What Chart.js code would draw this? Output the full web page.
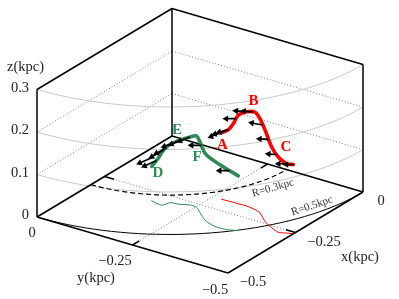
<!DOCTYPE html>
<html>
<head>
<meta charset="utf-8">
<style>
  html, body { margin: 0; padding: 0; background: #fff; overflow: hidden; }
  canvas { display: block; }
</style>
<script src="https://cdn.jsdelivr.net/npm/chart.js@4"></script>
</head>
<body>
<canvas id="myChart" width="399" height="299"></canvas>
<script>
'use strict';

// values, all in kpc
const redX = [-0.202, -0.201, -0.200, -0.201, -0.199, -0.204, -0.212, -0.242, -0.259, -0.270, -0.263, -0.258];
const redY = [-0.273, -0.290, -0.302, -0.315, -0.332, -0.361, -0.380, -0.415, -0.444, -0.469, -0.486, -0.500];
const redZ = [0.157, 0.168, 0.185, 0.208, 0.220, 0.229, 0.222, 0.215, 0.190, 0.177, 0.163, 0.163];

const greenX = [-0.293, -0.299, -0.297, -0.279, -0.274, -0.264, -0.266, -0.283, -0.308, -0.322, -0.322, -0.312];
const greenY = [-0.154, -0.175, -0.187, -0.192, -0.214, -0.234, -0.252, -0.273, -0.304, -0.336, -0.367, -0.394];
const greenZ = [0.081, 0.107, 0.129, 0.137, 0.151, 0.160, 0.168, 0.166, 0.157, 0.154, 0.144, 0.129];

// arrows: where along the curve they start (point index), and their x/y length
const redArrowAt = [0, 0.5, 1, 2.6, 4, 4.8, 6.55, 7.55, 8.75, 10, 11];
const redArrowDx = [-0.0296, -0.0252, -0.0224, -0.0122, -0.0068, -0.0068, -0.0051, -0.0089, -0.0077, -0.0097, -0.0085];
const redArrowDy = [0.0071, 0.0097, 0.0086, 0.0176, 0.0188, 0.0188, 0.0252, 0.0173, 0.0155, 0.0141, 0.0123];

const greenArrowAt = [0, 0.75, 2, 2.25, 3.3, 4, 5, 7.3, 10.33];
const greenArrowDx = [-0.0366, -0.0374, -0.0409, -0.0290, -0.0240, -0.0270, -0.0290, -0.0122, -0.0122];
const greenArrowDy = [0.0056, 0.0050, 0.0012, 0.0020, 0.0060, 0.0030, 0.0060, 0.0176, 0.0176];
const greenArrowLift = [0.02, 0, 0, 0, 0, 0, 0, 0, 0];

const zTicks = [0.1, 0.2, 0.3];
const floorTicks = [-0.25];
const radii = [0.3, 0.5];

const zTickLabels = ['0.3', '0.2', '0.1', '0'];
const yTickLabels = ['0', '\u22120.25', '\u22120.5'];
const xTickLabels = ['0', '\u22120.25', '\u22120.5'];

const BLACK = '#000';
const RED = '#ff0000';
const GREEN = '#2e8b57';
const GRID = '#808080';

// oblique view of the box, gives positions on the flat chart scales
function project(x, y, z) {
  return {
    x: 172 + 270 * x - 382 * y,
    y: 136 - 162 * x - 112 * y - 425 * z
  };
}

function straight(p1, p2, color, width, dash, order) {
  return {
    data: [project(p1[0], p1[1], p1[2]), project(p2[0], p2[1], p2[2])],
    showLine: true,
    borderColor: color,
    borderWidth: width,
    borderDash: dash,
    pointRadius: 0,
    order: order
  };
}

function arc(r, z, color, width, dash, order) {
  const pts = [];
  for (let i = 0; i <= 40; i++) {
    const a = (i / 40) * Math.PI / 2;
    pts.push(project(-r * Math.cos(a), -r * Math.sin(a), z));
  }
  return { data: pts, showLine: true, borderColor: color, borderWidth: width, borderDash: dash, pointRadius: 0, order: order };
}

function curve(xs, ys, zs, color, width, order) {
  const pts = [];
  for (let i = 0; i < xs.length; i++) {
    pts.push(project(xs[i], ys[i], zs[i]));
  }
  return { data: pts, showLine: true, borderColor: color, borderWidth: width, tension: 0.3, pointRadius: 0, borderCapStyle: 'round', order: order };
}

function arrow(xs, ys, zs, at, dx, dy, lift) {
  const i = Math.min(Math.floor(at), xs.length - 2);
  const f = at - i;
  const x = xs[i] + (xs[i + 1] - xs[i]) * f;
  const y = ys[i] + (ys[i + 1] - ys[i]) * f;
  const z = zs[i] + (zs[i + 1] - zs[i]) * f + lift;
  const tail = project(x, y, z);
  const tip = project(x + dx, y + dy, z);
  const angle = Math.atan2(tip.y - tail.y, tip.x - tail.x) * 180 / Math.PI + 90;
  return {
    data: [tail, tip],
    showLine: true,
    borderColor: BLACK,
    borderWidth: 1.7,
    backgroundColor: BLACK,
    pointBorderWidth: 0,
    pointStyle: 'triangle',
    pointRadius: [0, 3.8],
    pointRotation: [0, angle],
    order: 1
  };
}

const datasets = [];

// grey walls and floor guides
zTicks.forEach(function (z) {
  if (z < 0.3) {
    datasets.push(straight([-0.5, 0, z], [0, 0, z], GRID, 1, [1, 2], 9));
    datasets.push(straight([0, 0, z], [0, -0.5, z], GRID, 1, [1, 2], 9));
  }
  datasets.push(arc(0.5, z, '#c8c8c8', 1, [], 8));
});
floorTicks.forEach(function (t) {
  datasets.push(straight([t, 0, 0], [t, -0.5, 0], GRID, 1, [1, 2], 9));
  datasets.push(straight([-0.5, t, 0], [0, t, 0], GRID, 1, [1, 2], 9));
  datasets.push(straight([t, 0, 0], [t, -0.025, 0], BLACK, 1.5, [], 6));
  datasets.push(straight([t, -0.5, 0], [t, -0.475, 0], BLACK, 1.5, [], 6));
  datasets.push(straight([-0.5, t, 0], [-0.475, t, 0], BLACK, 1.5, [], 6));
  datasets.push(straight([0, t, 0], [-0.025, t, 0], BLACK, 1.5, [], 6));
});
datasets.push(arc(radii[0], 0, BLACK, 1.2, [5, 3], 7));
datasets.push(arc(radii[1], 0, BLACK, 1, [], 7));

// box
const boxEdges = [
  [[-0.5, 0, 0], [-0.5, 0, 0.3]],
  [[-0.5, 0, 0.3], [0, 0, 0.3]],
  [[0, 0, 0], [0, 0, 0.3]],
  [[0, 0, 0.3], [0, -0.5, 0.3]],
  [[0, -0.5, 0], [0, -0.5, 0.3]],
  [[-0.5, 0, 0], [-0.5, -0.5, 0]],
  [[-0.5, -0.5, 0], [0, -0.5, 0]],
  [[0, -0.5, 0], [0, 0, 0]],
  [[0, 0, 0], [-0.5, 0, 0]]
];
boxEdges.forEach(function (e) {
  datasets.push(straight(e[0], e[1], BLACK, 1.5, [], 5));
});

// tracks on the floor and in space
const floorZ = redZ.map(function () { return 0; });
datasets.push(curve(redX, redY, floorZ, RED, 1, 4));
datasets.push(curve(greenX, greenY, floorZ, GREEN, 1, 4));
datasets.push(curve(redX, redY, redZ, RED, 3.6, 3));
datasets.push(curve(greenX, greenY, greenZ, GREEN, 3.6, 3));

redArrowAt.forEach(function (at, i) {
  datasets.push(arrow(redX, redY, redZ, at, redArrowDx[i], redArrowDy[i], 0));
});
greenArrowAt.forEach(function (at, i) {
  datasets.push(arrow(greenX, greenY, greenZ, at, greenArrowDx[i], greenArrowDy[i], greenArrowLift[i]));
});

function put(ctx, chart, text, x, y, font, color, align, rot) {
  const px = chart.scales.x.getPixelForValue(x);
  const py = chart.scales.y.getPixelForValue(y);
  ctx.save();
  ctx.translate(px, py);
  ctx.rotate((rot || 0) * Math.PI / 180);
  ctx.font = font;
  ctx.fillStyle = color;
  ctx.textAlign = align;
  ctx.textBaseline = 'middle';
  ctx.fillText(text, 0, 0);
  ctx.restore();
}

const textPlugin = {
  id: 'texts',
  afterDatasetsDraw(chart) {
    const ctx = chart.ctx;
    const serif = '"Liberation Serif", serif';
    const tick = '14.5px ' + serif;
    const mark = 'bold 15px ' + serif;

    put(ctx, chart, 'z(kpc)', 7, 67, tick, '#222', 'left');
    put(ctx, chart, zTickLabels[0], 29, 88, tick, '#222', 'right');
    put(ctx, chart, zTickLabels[1], 29, 130, tick, '#222', 'right');
    put(ctx, chart, zTickLabels[2], 29, 173, tick, '#222', 'right');
    put(ctx, chart, zTickLabels[3], 29, 215, tick, '#222', 'right');

    put(ctx, chart, yTickLabels[0], 32, 233, tick, '#222', 'center');
    put(ctx, chart, yTickLabels[1], 115, 261, tick, '#222', 'center');
    put(ctx, chart, yTickLabels[2], 215, 290, tick, '#222', 'center');
    put(ctx, chart, 'y(kpc)', 96, 278, tick, '#222', 'center');

    put(ctx, chart, xTickLabels[0], 381, 201, tick, '#222', 'center');
    put(ctx, chart, xTickLabels[1], 324, 242, tick, '#222', 'center');
    put(ctx, chart, xTickLabels[2], 253, 282, tick, '#222', 'center');
    put(ctx, chart, 'x(kpc)', 360, 257, tick, '#222', 'center');

    put(ctx, chart, 'R=0.3kpc', 273, 188, '11px ' + serif, '#333', 'center', -16);
    put(ctx, chart, 'R=0.5kpc', 312, 206, '11px ' + serif, '#333', 'center', -18.5);

    put(ctx, chart, 'A', 222.5, 145, mark, RED, 'center');
    put(ctx, chart, 'B', 253.5, 101, mark, RED, 'center');
    put(ctx, chart, 'C', 286, 147.5, mark, RED, 'center');
    put(ctx, chart, 'D', 158, 173, mark, GREEN, 'center');
    put(ctx, chart, 'E', 177, 130, mark, GREEN, 'center');
    put(ctx, chart, 'F', 197, 157, mark, GREEN, 'center');
  }
};

const ctx = document.getElementById('myChart').getContext('2d');

const myChart = new Chart(ctx, {
  type: 'scatter',
  data: { datasets: datasets },
  options: {
    responsive: false,
    animation: false,
    events: [],
    layout: { autoPadding: false },
    plugins: { legend: { display: false }, tooltip: { enabled: false } },
    scales: {
      x: { type: 'linear', display: false, min: 0, max: 399 },
      y: { type: 'linear', display: false, min: 0, max: 299, reverse: true }
    }
  },
  plugins: [textPlugin]
});
</script>
</body>
</html>
